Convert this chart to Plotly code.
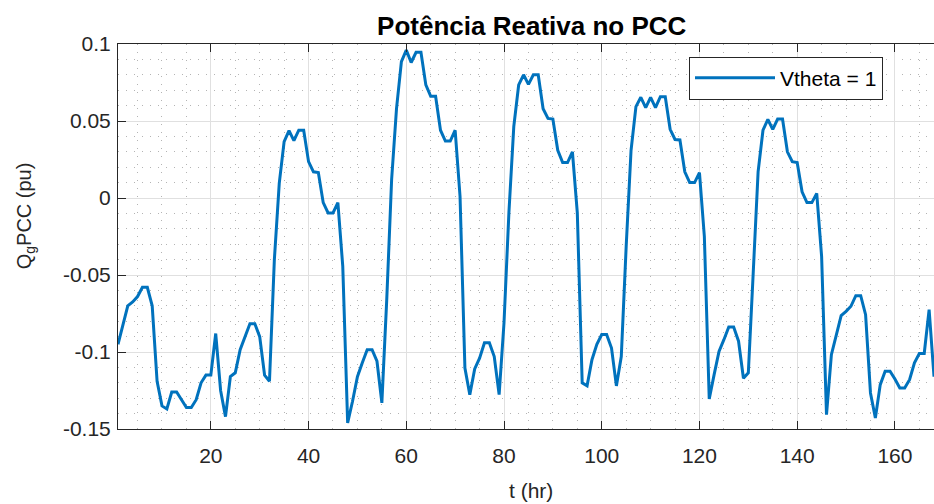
import plotly.graph_objects as go

# ---- data ----
hours = list(range(1, 169))
q_pcc = [
    -0.095, -0.083, -0.070, -0.0675, -0.064, -0.058, -0.058, -0.070, -0.119, -0.135,
    -0.137, -0.126, -0.126, -0.131, -0.136, -0.136, -0.131, -0.120, -0.115, -0.115,
    -0.088, -0.125, -0.142, -0.116, -0.1135, -0.0985, -0.090, -0.0816, -0.0816, -0.090,
    -0.115, -0.119, -0.040, 0.0095, 0.0366, 0.0437, 0.0372, 0.044, 0.044, 0.0236,
    0.017, 0.0165, -0.003, -0.0097, -0.0097, -0.003, -0.0444, -0.146, -0.132, -0.116,
    -0.107, -0.0985, -0.0985, -0.106, -0.133, -0.066, 0.012, 0.058, 0.0885, 0.096,
    0.088, 0.0946, 0.0946, 0.0734, 0.066, 0.066, 0.044, 0.037, 0.037, 0.044,
    0.001, -0.1104, -0.1277, -0.111, -0.104, -0.094, -0.094, -0.103, -0.1277, -0.081,
    -0.0097, 0.0463, 0.0734, 0.080, 0.0738, 0.080, 0.080, 0.058, 0.0517, 0.0513,
    0.031, 0.023, 0.023, 0.030, -0.0097, -0.120, -0.122, -0.105, -0.095, -0.0887,
    -0.0887, -0.0974, -0.122, -0.103, -0.0316, 0.031, 0.0593, 0.0654, 0.0587, 0.0654,
    0.0587, 0.0658, 0.0658, 0.0446, 0.038, 0.0377, 0.017, 0.010, 0.010, 0.0165,
    -0.025, -0.1305, -0.1147, -0.0996, -0.092, -0.0838, -0.0838, -0.093, -0.117, -0.1135,
    -0.0487, 0.017, 0.044, 0.051, 0.0446, 0.0513, 0.0513, 0.030, 0.0236, 0.023,
    0.004, -0.003, -0.003, 0.003, -0.038, -0.1407, -0.1017, -0.0887, -0.0764, -0.0736,
    -0.0703, -0.0634, -0.0634, -0.0758, -0.1266, -0.1429, -0.1212, -0.1125, -0.1125, -0.1175,
    -0.1234, -0.1234, -0.118, -0.107, -0.101, -0.101, -0.0725, -0.116,
]
series_name = "Vtheta = 1"
x_ticks = [20, 40, 60, 80, 100, 120, 140, 160]
y_ticks = [-0.15, -0.1, -0.05, 0, 0.05, 0.1]
y_tick_labels = ["-0.15", "-0.1", "-0.05", "0", "0.05", "0.1"]
title_text = "Potência Reativa no PCC"
x_label = "t (hr)"
y_label = "Q<sub>g</sub>PCC (pu)"

FONT = "Liberation Sans, Arial, Helvetica, sans-serif"
AX = "#262626"
MAJOR = "#e0e0e0"
MINOR = "#b4b4b4"

fig = go.Figure()
fig.add_trace(go.Scatter(
    x=hours, y=q_pcc, mode="lines", name=series_name,
    line=dict(color="#0072BD", width=3),
))

axis_common = dict(
    showline=True, linecolor=AX, linewidth=1,
    ticks="inside", tickcolor=AX, ticklen=8, tickwidth=1,
    showgrid=True, gridcolor=MAJOR, gridwidth=1,
    zeroline=False,
    tickfont=dict(family=FONT, size=21, color=AX),
)

fig.update_layout(
    width=934, height=504,
    margin=dict(l=118, r=0, t=44, b=75),
    paper_bgcolor="white", plot_bgcolor="white",
    showlegend=True,
    title=dict(
        text="<b>" + title_text + "</b>",
        font=dict(family=FONT, size=26, color="black"),
        xref="paper", x=0.507, xanchor="center",
        yref="container", y=1 - 26 / 504, yanchor="middle",
    ),
    xaxis=dict(
        range=[1, 168], tickvals=x_ticks, mirror="ticks",
        ticklabelstandoff=8,
        minor=dict(dtick=5, tick0=0, showgrid=True, gridcolor=MINOR,
                   griddash="1px,7px", gridwidth=1, ticks=""),
        **axis_common,
    ),
    yaxis=dict(
        range=[-0.15, 0.1], tickvals=y_ticks, ticktext=y_tick_labels,
        ticklabelstandoff=2,
        minor=dict(dtick=0.01, tick0=0, showgrid=True, gridcolor=MINOR,
                   griddash="1px,7px", gridwidth=1, ticks=""),
        **axis_common,
    ),
    legend=dict(
        x=0.9375, xanchor="right", y=0.967, yanchor="top",
        bgcolor="white", bordercolor=AX, borderwidth=1,
        itemwidth=80,
        font=dict(family=FONT, size=21, color="black"),
    ),
    annotations=[
        dict(text=x_label, xref="paper", yref="paper",
             x=0.506, y=-0.161, xanchor="center", yanchor="middle",
             showarrow=False, font=dict(family=FONT, size=21, color=AX)),
        dict(text=y_label, xref="paper", yref="paper",
             x=-0.114, y=0.555, xanchor="center", yanchor="middle",
             textangle=-90, showarrow=False,
             font=dict(family=FONT, size=20, color=AX)),
    ],
)

fig.write_html(
    "out.html",
    config={"displayModeBar": False},
    post_script="document.body.style.margin='0';document.body.style.padding='0';",
)
